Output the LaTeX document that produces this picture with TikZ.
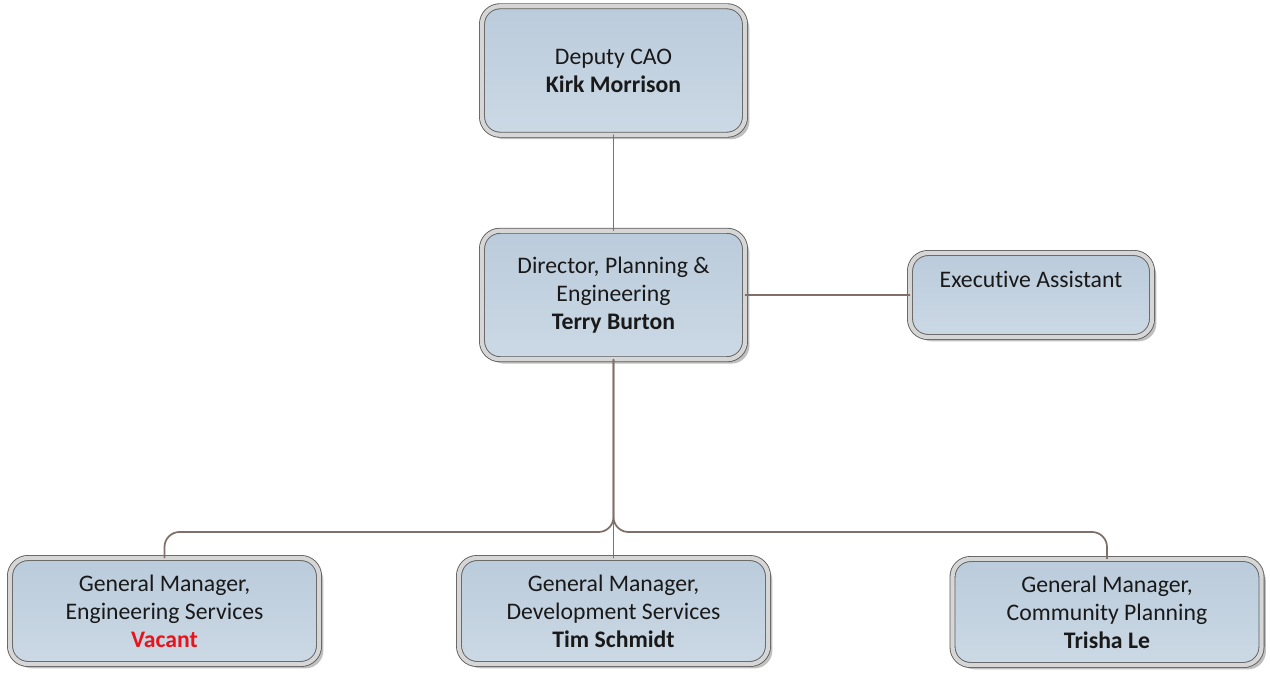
\documentclass[tikz,border=0pt]{standalone}
\usepackage{fontspec}
\setmainfont{Carlito}[Ligatures=NoCommon]
\usetikzlibrary{shadows}

\definecolor{boxtop}{RGB}{186,203,219}
\definecolor{boxbottom}{RGB}{204,217,229}
\definecolor{rimcolor}{RGB}{92,92,92}
\definecolor{bandcolor}{RGB}{214,214,214}
\definecolor{linkcolor}{RGB}{128,112,106}
\definecolor{vacantred}{RGB}{232,20,28}

\begin{document}
\begin{tikzpicture}
		[line cap=round,
		%Styles
		main node/.style={rectangle,rounded corners=0.36cm,draw=rimcolor,line width=0.5pt,
			double=bandcolor,double distance=2.4pt,
			top color=boxtop,bottom color=boxbottom,
			drop shadow={shadow xshift=2.5pt,shadow yshift=-2.5pt,opacity=0.25,fill=black},
			align=center,font=\fontsize{13.5}{16}\selectfont,text=black!90},
		head node/.style={main node,minimum width=5.26cm,minimum height=2.57cm},
		staff node/.style={main node,minimum width=4.84cm,minimum height=1.68cm,text depth=0.62cm},
		manager node/.style={main node,minimum width=6.18cm,minimum height=2.12cm},
		link/.style={draw=linkcolor,line width=1pt}
		]
		
		\useasboundingbox (0,0) rectangle (25.4,13.5);
		
		%The graphic
		\node[head node] (cao) at (12.27, 12.09) {Deputy CAO\\\textbf{Kirk Morrison}};
		\node[head node] (dir) at (12.27, 7.6) {Director, Planning \&\\Engineering\\\textbf{Terry Burton}};
		\node[staff node] (ea) at (20.62, 7.6) {Executive Assistant};
		
		\node[manager node] (gme) at (3.29, 1.28) {General Manager,\\Engineering Services\\\textcolor{vacantred}{\textbf{Vacant}}};
		\node[manager node] (gmd) at (12.27, 1.28) {General Manager,\\Development Services\\\textbf{Tim Schmidt}};
		\node[manager node] (gmc) at (22.14, 1.26) {General Manager,\\Community Planning\\\textbf{Trisha Le}};
		
		\coordinate (fork) at (12.27, 2.86);
		
		\path[link] (cao) edge (dir)
					(dir.east) edge (dir.east -| ea.west);
		\draw[link] (dir.south) -- (gmd.north);
		\draw[link,rounded corners=0.3cm] (dir.south) |- (gme.north |- fork) -- (gme.north);
		\draw[link,rounded corners=0.3cm] (dir.south) |- (gmc.north |- fork) -- (gmc.north);
	\end{tikzpicture}
\end{document}
